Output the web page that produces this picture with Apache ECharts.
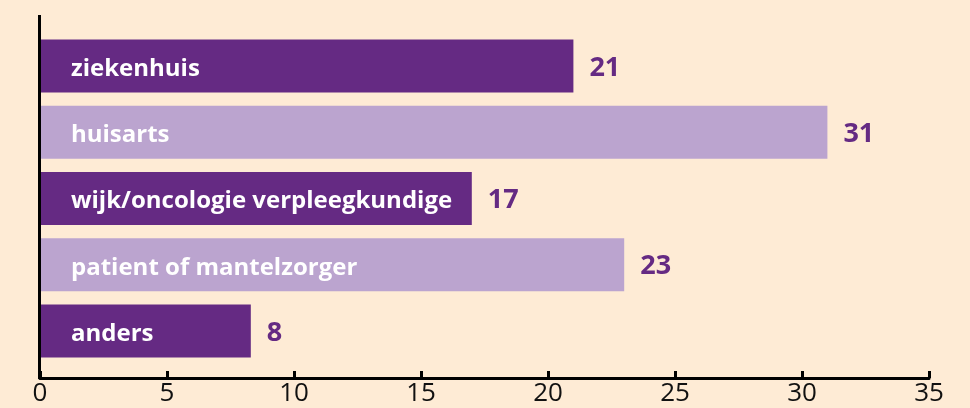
<!DOCTYPE html>
<html><head><meta charset="utf-8">
<style>html,body{margin:0;padding:0;background:#FEEBD5;}#c{width:970px;height:408px;}</style>
<script src="https://cdn.jsdelivr.net/npm/echarts@6/dist/echarts.min.js"></script>
</head><body><div id="c"></div>
<script>
const categories = ['ziekenhuis', 'huisarts', 'wijk/oncologie verpleegkundige', 'patient of mantelzorger', 'anders'];
const values = [21, 31, 17, 23, 8.3];
const valueLabels = ['21', '31', '17', '23', '8'];
const barColors = ['#652A83', '#BBA4CF', '#652A83', '#BBA4CF', '#652A83'];
const xTicks = [0, 5, 10, 15, 20, 25, 30, 35];

const chart = echarts.init(document.getElementById('c'));
const font = '"Open Sans", "Noto Sans", sans-serif';
chart.setOption({
  backgroundColor: '#FEEBD5',
  animation: false,
  grid: { left: 40, right: 41, top: 33, bottom: 44 },
  xAxis: {
    type: 'value', min: xTicks[0], max: xTicks[xTicks.length - 1], interval: 5,
    offset: 14,
    axisLine: { show: true, lineStyle: { color: '#000', width: 3 } },
    axisTick: { show: true, inside: true, length: 7, lineStyle: { color: '#000', width: 3 } },
    axisLabel: { color: '#111', fontSize: 26, fontFamily: font, margin: 3 },
    splitLine: { show: false }
  },
  yAxis: {
    type: 'category', data: categories, inverse: true,
    axisLine: { show: false }, axisTick: { show: false }, axisLabel: { show: false }
  },
  graphic: [{
    type: 'line', shape: { x1: 39.5, y1: 15, x2: 39.5, y2: 379 },
    style: { stroke: '#000', lineWidth: 3 }, z: 100
  }],
  series: [{
    type: 'bar', barWidth: 53,
    data: values.map((v, i) => ({ value: v, itemStyle: { color: barColors[i] } })),
    label: {
      show: true, position: 'insideLeft', distance: 31, offset: [0, 3],
      formatter: p => categories[p.dataIndex],
      color: '#fff', fontSize: 24, fontWeight: 'bold', fontFamily: font
    }
  }, {
    type: 'bar', barWidth: 53, barGap: '-100%',
    data: values,
    itemStyle: { color: 'rgba(0,0,0,0)' },
    label: {
      show: true, position: 'right', distance: 16, offset: [0, 2],
      formatter: p => valueLabels[p.dataIndex],
      color: '#652A83', fontSize: 27, fontWeight: 'bold', fontFamily: font
    }
  }]
});
</script></body></html>
